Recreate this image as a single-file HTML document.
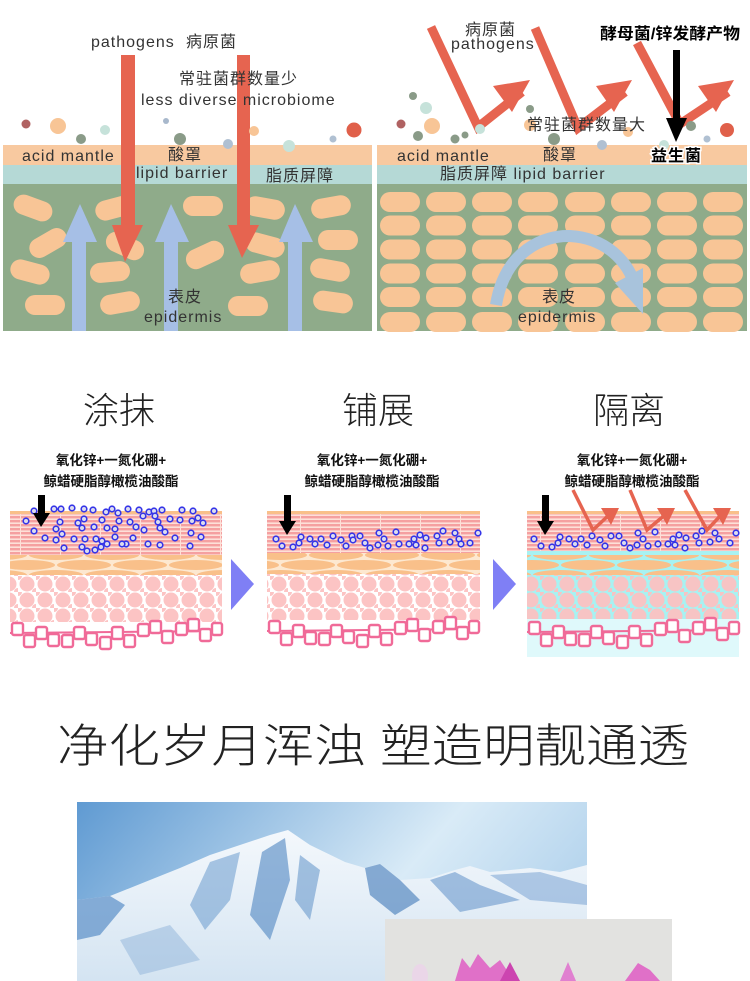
<!DOCTYPE html>
<html><head><meta charset="utf-8"><style>
html,body{margin:0;padding:0;background:#fff;width:750px;height:981px;overflow:hidden}
svg{display:block}
text{font-family:"Liberation Sans","Noto Sans CJK SC",sans-serif}
</style></head><body>
<svg width="750" height="981" viewBox="0 0 750 981" xmlns="http://www.w3.org/2000/svg">
<defs>
<pattern id="stripe" width="40" height="4" patternUnits="userSpaceOnUse"><rect width="40" height="4" fill="#fde0d8"/><rect y="0" width="40" height="2.4" fill="#f5a0a0"/><rect x="20" width="1" height="4" fill="#fde0d8"/></pattern>
<pattern id="oval" width="56" height="20" patternUnits="userSpaceOnUse"><rect width="56" height="20" fill="#fde8d0"/><ellipse cx="28" cy="5" rx="27" ry="5" fill="#f9c08a"/><ellipse cx="0" cy="15" rx="27" ry="5" fill="#f9c08a"/><ellipse cx="56" cy="15" rx="27" ry="5" fill="#f9c08a"/></pattern>
<pattern id="oval2" width="56" height="20" patternUnits="userSpaceOnUse"><rect width="56" height="20" fill="#a8f2f2"/><ellipse cx="28" cy="5" rx="27" ry="5" fill="#f9c08a"/><ellipse cx="0" cy="15" rx="27" ry="5" fill="#f9c08a"/><ellipse cx="56" cy="15" rx="27" ry="5" fill="#f9c08a"/></pattern>
<pattern id="blob" width="18" height="16" patternUnits="userSpaceOnUse"><rect width="18" height="16" fill="#fff"/><circle cx="9" cy="8" r="7.5" fill="#fcc4c4"/><circle cx="0" cy="0" r="4" fill="#fcc4c4"/><circle cx="18" cy="16" r="4" fill="#fcc4c4"/></pattern>
<pattern id="blob2" width="18" height="16" patternUnits="userSpaceOnUse"><rect width="18" height="16" fill="#a8f2f2"/><circle cx="9" cy="8" r="7.5" fill="#f7c4c4"/><circle cx="0" cy="0" r="4" fill="#f7c4c4"/><circle cx="18" cy="16" r="4" fill="#f7c4c4"/></pattern>
<g id="cap"><rect x="-20" y="-10" width="40" height="20" rx="10" fill="#f8c596"/></g>
<g id="bd"><circle r="2.8" fill="#dde" stroke="#3535e8" stroke-width="1.6"/></g>
<g id="cells" fill="#fff" stroke="#f06a98" stroke-width="2.4">
<path d="M0 10 L212 8" stroke-width="2"/>
<rect x="2" y="0" width="11" height="12" rx="2"/><rect x="14" y="12" width="11" height="12" rx="2"/><rect x="26" y="4" width="11" height="12" rx="2"/><rect x="38" y="11" width="11" height="12" rx="2"/><rect x="52" y="12" width="11" height="12" rx="2"/><rect x="64" y="4" width="11" height="12" rx="2"/><rect x="76" y="10" width="11" height="12" rx="2"/><rect x="90" y="14" width="11" height="12" rx="2"/><rect x="102" y="4" width="11" height="12" rx="2"/><rect x="114" y="12" width="11" height="12" rx="2"/><rect x="128" y="1" width="11" height="12" rx="2"/><rect x="140" y="-2" width="11" height="12" rx="2"/><rect x="152" y="8" width="11" height="12" rx="2"/><rect x="166" y="0" width="11" height="12" rx="2"/><rect x="178" y="-4" width="11" height="12" rx="2"/><rect x="190" y="6" width="11" height="12" rx="2"/><rect x="202" y="0" width="10" height="12" rx="2"/>
</g>
<linearGradient id="sky" x1="0" y1="0" x2="1" y2="0.3"><stop offset="0" stop-color="#5f9ad2"/><stop offset="0.7" stop-color="#d9ebf7"/><stop offset="1" stop-color="#b8d6ee"/></linearGradient>
<linearGradient id="mt" x1="0" y1="0" x2="0" y2="1"><stop offset="0" stop-color="#f4f8fc"/><stop offset="1" stop-color="#d4e4f2"/></linearGradient>
</defs>

<!-- TOP LEFT PANEL -->
<rect x="3" y="145" width="369" height="20" fill="#f8c9a0"/>
<rect x="3" y="165" width="369" height="19" fill="#b5d9d6"/>
<rect x="3" y="184" width="369" height="147" fill="#8fab8a"/>
<g>
<use href="#cap" transform="translate(33,208) rotate(20)"/>
<use href="#cap" transform="translate(115,208) rotate(-15)"/>
<use href="#cap" transform="translate(203,206)"/>
<use href="#cap" transform="translate(265,208) rotate(10)"/>
<use href="#cap" transform="translate(331,207) rotate(-10)"/>
<use href="#cap" transform="translate(48,243) rotate(-30)"/>
<use href="#cap" transform="translate(125,246) rotate(25)"/>
<use href="#cap" transform="translate(205,255) rotate(-25)"/>
<use href="#cap" transform="translate(265,245) rotate(15)"/>
<use href="#cap" transform="translate(338,240)"/>
<use href="#cap" transform="translate(30,272) rotate(15)"/>
<use href="#cap" transform="translate(110,272) rotate(-5)"/>
<use href="#cap" transform="translate(260,272) rotate(-10)"/>
<use href="#cap" transform="translate(330,270) rotate(10)"/>
<use href="#cap" transform="translate(45,305)"/>
<use href="#cap" transform="translate(120,303) rotate(-10)"/>
<use href="#cap" transform="translate(248,306)"/>
<use href="#cap" transform="translate(333,302) rotate(8)"/>
</g>
<g fill="#a6bfe6">
<rect x="72" y="242" width="14" height="89"/><polygon points="63,242 97,242 80,204"/>
<rect x="164" y="242" width="14" height="89"/><polygon points="155,242 189,242 171,204"/>
<rect x="288" y="242" width="14" height="89"/><polygon points="279,242 313,242 295,204"/>
</g>
<g fill="#e66450">
<rect x="121" y="55" width="14" height="172"/><polygon points="112,225 143,225 125,262"/>
<rect x="237" y="55" width="13" height="172"/><polygon points="228,225 259,225 242,258"/>
</g>
<circle cx="26" cy="124" r="4.5" fill="#b06262"/><circle cx="58" cy="126" r="8" fill="#f8c596"/><circle cx="81" cy="139" r="5" fill="#8a9b88"/><circle cx="105" cy="130" r="5" fill="#c6e2da"/><circle cx="166" cy="121" r="3" fill="#a8b8cc"/><circle cx="180" cy="139" r="6" fill="#8a9b88"/><circle cx="228" cy="144" r="5" fill="#b0c0d2"/><circle cx="254" cy="131" r="5" fill="#f8c596"/><circle cx="289" cy="146" r="6" fill="#c6e2da"/><circle cx="333" cy="139" r="3.5" fill="#b0c0d2"/><circle cx="354" cy="130" r="7.5" fill="#e0604a"/>
<g fill="#333" font-size="16" letter-spacing="1">
<text x="91" y="47">pathogens</text><text x="186" y="47">病原菌</text>
<text x="179" y="84">常驻菌群数量少</text>
<text x="141" y="105">less diverse microbiome</text>
<text x="22" y="161">acid mantle</text><text x="168" y="160">酸罩</text>
<text x="136" y="178">lipid barrier</text><text x="266" y="181">脂质屏障</text>
<text x="168" y="302">表皮</text><text x="144" y="322">epidermis</text>
</g>

<!-- TOP RIGHT PANEL -->
<rect x="377" y="145" width="370" height="20" fill="#f8c9a0"/>
<rect x="377" y="165" width="370" height="19" fill="#b5d9d6"/>
<rect x="377" y="184" width="370" height="147" fill="#8fab8a"/>
<g fill="#f8c596">
<g id="crow"><rect x="380" y="192" width="40" height="20" rx="10"/><rect x="426" y="192" width="40" height="20" rx="10"/><rect x="472" y="192" width="40" height="20" rx="10"/><rect x="518" y="192" width="40" height="20" rx="10"/><rect x="565" y="192" width="40" height="20" rx="10"/><rect x="611" y="192" width="40" height="20" rx="10"/><rect x="657" y="192" width="40" height="20" rx="10"/><rect x="703" y="192" width="40" height="20" rx="10"/></g>
<use href="#crow" y="23.5"/><use href="#crow" y="47.5"/><use href="#crow" y="71.5"/><use href="#crow" y="95"/><use href="#crow" y="120"/>
</g>
<path d="M496,305 C505,250 545,235 570,236 C605,238 628,260 636,288" fill="none" stroke="#a8c3dc" stroke-width="12"/>
<polygon points="615,283 643,268 643,314" fill="#a8c3dc"/>
<g fill="none" stroke="#e66450" stroke-width="9">
<polyline points="431,27 478,127 522,92"/><polyline points="535,28 578,128 625,92"/><polyline points="637,43 680,124 728,92"/>
</g>
<g fill="#e66450">
<polygon points="493,86 530,80 512,112"/><polygon points="596,86 632,80 614,112"/><polygon points="698,86 734,80 716,112"/>
</g>
<circle cx="413" cy="96" r="4" fill="#8a9b88"/><circle cx="426" cy="108" r="6" fill="#c6e2da"/><circle cx="401" cy="124" r="4.5" fill="#b06262"/><circle cx="432" cy="126" r="8" fill="#f8c596"/><circle cx="418" cy="136" r="5" fill="#8a9b88"/><circle cx="455" cy="139" r="4.5" fill="#8a9b88"/><circle cx="465" cy="135" r="3.5" fill="#8a9b88"/><circle cx="480" cy="129" r="5" fill="#c6e2da"/><circle cx="530" cy="125" r="6" fill="#f8c596"/><circle cx="530" cy="109" r="4" fill="#8a9b88"/><circle cx="554" cy="139" r="6" fill="#8a9b88"/><circle cx="602" cy="145" r="5" fill="#b0c0d2"/><circle cx="628" cy="132" r="5" fill="#f8c596"/><circle cx="691" cy="126" r="5" fill="#8a9b88"/><circle cx="707" cy="139" r="3.5" fill="#b0c0d2"/><circle cx="727" cy="130" r="7" fill="#e0604a"/><circle cx="664" cy="145" r="5" fill="#c6e2da"/>
<rect x="673" y="50" width="7" height="75"/><polygon points="666,118 687,118 676,142"/>
<g fill="#333" font-size="16" letter-spacing="1">
<text x="465" y="35">病原菌</text><text x="451" y="49">pathogens</text>
<text x="527" y="130">常驻菌群数量大</text>
<text x="397" y="161">acid mantle</text><text x="543" y="160">酸罩</text>
<text x="440" y="179">脂质屏障 lipid barrier</text>
<text x="542" y="302">表皮</text><text x="518" y="322">epidermis</text>
</g>
<text x="600" y="39" font-size="16" font-weight="bold" fill="#000" textLength="140" lengthAdjust="spacingAndGlyphs">酵母菌/锌发酵产物</text>
<text x="651" y="161" font-size="16" font-weight="bold" fill="#000" stroke="#fff" stroke-width="3" paint-order="stroke" letter-spacing="1">益生菌</text>

<!-- MIDDLE TITLES -->
<g font-size="36" fill="#222" font-weight="300">
<text x="83" y="423">涂抹</text><text x="342" y="423">铺展</text><text x="593" y="423">隔离</text>
</g>

<g font-size="13.5" font-weight="bold" fill="#111" text-anchor="middle">
<text x="111" y="465">氧化锌+一氮化硼+</text><text x="111" y="486">鲸蜡硬脂醇橄榄油酸酯</text>
<text x="372" y="465">氧化锌+一氮化硼+</text><text x="372" y="486">鲸蜡硬脂醇橄榄油酸酯</text>
<text x="632" y="465">氧化锌+一氮化硼+</text><text x="632" y="486">鲸蜡硬脂醇橄榄油酸酯</text>
</g>
<!-- PANEL 1 -->
<rect x="10" y="511" width="212" height="3" fill="#f9c08a"/>
<rect x="10" y="514" width="212" height="41" fill="url(#stripe)"/>
<rect x="10" y="555" width="212" height="20" fill="url(#oval)"/>
<rect x="10" y="575" width="212" height="47" fill="url(#blob)"/>
<use href="#cells" x="10" y="623"/>
<g id="d1">
<use href="#bd" x="34" y="511"/><use href="#bd" x="54" y="509"/><use href="#bd" x="61" y="509"/><use href="#bd" x="72" y="508"/><use href="#bd" x="84" y="509"/><use href="#bd" x="93" y="510"/><use href="#bd" x="106" y="512"/><use href="#bd" x="112" y="509"/><use href="#bd" x="118" y="513"/><use href="#bd" x="128" y="509"/><use href="#bd" x="139" y="510"/><use href="#bd" x="149" y="512"/><use href="#bd" x="154" y="511"/><use href="#bd" x="162" y="510"/><use href="#bd" x="182" y="510"/><use href="#bd" x="193" y="511"/><use href="#bd" x="214" y="511"/>
<use href="#bd" x="26" y="521"/><use href="#bd" x="60" y="522"/><use href="#bd" x="78" y="523"/><use href="#bd" x="84" y="519"/><use href="#bd" x="102" y="520"/><use href="#bd" x="119" y="521"/><use href="#bd" x="130" y="522"/><use href="#bd" x="143" y="516"/><use href="#bd" x="155" y="516"/><use href="#bd" x="158" y="522"/><use href="#bd" x="170" y="519"/><use href="#bd" x="180" y="520"/><use href="#bd" x="192" y="521"/><use href="#bd" x="198" y="518"/><use href="#bd" x="203" y="523"/>
<use href="#bd" x="34" y="531"/><use href="#bd" x="56" y="529"/><use href="#bd" x="82" y="528"/><use href="#bd" x="94" y="527"/><use href="#bd" x="107" y="528"/><use href="#bd" x="115" y="529"/><use href="#bd" x="136" y="527"/><use href="#bd" x="144" y="530"/><use href="#bd" x="160" y="528"/><use href="#bd" x="165" y="532"/><use href="#bd" x="191" y="533"/><use href="#bd" x="201" y="537"/>
<use href="#bd" x="45" y="538"/><use href="#bd" x="56" y="540"/><use href="#bd" x="62" y="534"/><use href="#bd" x="74" y="539"/><use href="#bd" x="85" y="539"/><use href="#bd" x="96" y="539"/><use href="#bd" x="102" y="541"/><use href="#bd" x="115" y="537"/><use href="#bd" x="126" y="544"/><use href="#bd" x="133" y="538"/><use href="#bd" x="148" y="544"/><use href="#bd" x="160" y="545"/><use href="#bd" x="175" y="538"/><use href="#bd" x="190" y="546"/>
<use href="#bd" x="64" y="548"/><use href="#bd" x="82" y="547"/><use href="#bd" x="95" y="550"/><use href="#bd" x="101" y="547"/><use href="#bd" x="87" y="551"/><use href="#bd" x="107" y="544"/><use href="#bd" x="122" y="544"/>
</g>
<rect x="38" y="495" width="7" height="20"/><polygon points="33,513 50,513 41,527"/>
<polygon points="231,559 254,584 231,610" fill="#7f7ff5"/>

<!-- PANEL 2 -->
<rect x="267" y="511" width="213" height="3" fill="#f9c08a"/>
<rect x="267" y="514" width="213" height="39" fill="url(#stripe)"/>
<rect x="267" y="553" width="213" height="21" fill="url(#oval)"/>
<rect x="267" y="574" width="213" height="46" fill="url(#blob)"/>
<use href="#cells" x="267" y="621"/>
<g>
<use href="#bd" x="276" y="539"/><use href="#bd" x="282" y="546"/><use href="#bd" x="293" y="547"/><use href="#bd" x="299" y="543"/><use href="#bd" x="301" y="537"/><use href="#bd" x="310" y="539"/><use href="#bd" x="315" y="544"/><use href="#bd" x="321" y="539"/><use href="#bd" x="327" y="545"/><use href="#bd" x="333" y="536"/><use href="#bd" x="341" y="540"/><use href="#bd" x="346" y="546"/><use href="#bd" x="352" y="536"/><use href="#bd" x="353" y="540"/><use href="#bd" x="360" y="536"/><use href="#bd" x="365" y="543"/><use href="#bd" x="370" y="548"/><use href="#bd" x="378" y="545"/><use href="#bd" x="379" y="533"/><use href="#bd" x="384" y="539"/><use href="#bd" x="388" y="546"/><use href="#bd" x="396" y="532"/><use href="#bd" x="399" y="544"/><use href="#bd" x="409" y="544"/><use href="#bd" x="414" y="539"/><use href="#bd" x="416" y="545"/><use href="#bd" x="420" y="535"/><use href="#bd" x="425" y="548"/><use href="#bd" x="426" y="538"/><use href="#bd" x="437" y="536"/><use href="#bd" x="439" y="543"/><use href="#bd" x="443" y="531"/><use href="#bd" x="450" y="542"/><use href="#bd" x="455" y="533"/><use href="#bd" x="459" y="539"/><use href="#bd" x="461" y="544"/><use href="#bd" x="470" y="543"/><use href="#bd" x="478" y="533"/>
</g>
<rect x="284" y="495" width="7" height="28"/><polygon points="279,521 296,521 287,535"/>
<polygon points="493,559 516,584 493,610" fill="#7f7ff5"/>

<!-- PANEL 3 -->
<rect x="527" y="550" width="212" height="107" fill="#dff9fb"/>
<rect x="527" y="511" width="212" height="3" fill="#f9c08a"/>
<rect x="527" y="514" width="212" height="37" fill="url(#stripe)"/>
<rect x="527" y="551" width="212" height="4" fill="#a8f2f2"/>
<rect x="527" y="555" width="212" height="20" fill="url(#oval2)"/>
<rect x="527" y="575" width="212" height="44" fill="url(#blob2)"/>
<use href="#cells" x="527" y="622"/>
<g>
<use href="#bd" x="534" y="539"/><use href="#bd" x="541" y="546"/><use href="#bd" x="552" y="547"/><use href="#bd" x="558" y="543"/><use href="#bd" x="560" y="537"/><use href="#bd" x="569" y="539"/><use href="#bd" x="575" y="544"/><use href="#bd" x="581" y="539"/><use href="#bd" x="587" y="545"/><use href="#bd" x="592" y="536"/><use href="#bd" x="600" y="540"/><use href="#bd" x="605" y="546"/><use href="#bd" x="611" y="536"/><use href="#bd" x="619" y="536"/><use href="#bd" x="624" y="543"/><use href="#bd" x="630" y="548"/><use href="#bd" x="637" y="545"/><use href="#bd" x="638" y="533"/><use href="#bd" x="643" y="539"/><use href="#bd" x="648" y="546"/><use href="#bd" x="655" y="532"/><use href="#bd" x="658" y="544"/><use href="#bd" x="668" y="544"/><use href="#bd" x="673" y="539"/><use href="#bd" x="675" y="545"/><use href="#bd" x="679" y="535"/><use href="#bd" x="685" y="548"/><use href="#bd" x="686" y="538"/><use href="#bd" x="696" y="536"/><use href="#bd" x="699" y="543"/><use href="#bd" x="702" y="531"/><use href="#bd" x="710" y="542"/><use href="#bd" x="715" y="533"/><use href="#bd" x="719" y="539"/><use href="#bd" x="730" y="543"/><use href="#bd" x="736" y="533"/>
</g>
<rect x="542" y="495" width="7" height="28"/><polygon points="537,521 554,521 545,535"/>
<g fill="none" stroke="#e66450" stroke-width="3.5">
<polyline points="573,490 593,530 610,514"/><polyline points="630,490 647,530 666,514"/><polyline points="685,490 707,530 722,514"/>
</g>
<g fill="#e66450">
<polygon points="601,508 619,508 611,525"/><polygon points="657,508 675,508 667,525"/><polygon points="713,508 731,508 723,525"/>
</g>

<!-- BIG TITLE -->
<text x="57" y="762" font-size="46" fill="#222" font-weight="300" textLength="632" lengthAdjust="spacingAndGlyphs">净化岁月浑浊 塑造明靓通透</text>

<!-- MOUNTAIN IMAGE -->
<rect x="77" y="802" width="510" height="179" fill="url(#sky)"/>
<polygon points="77,900 110,896 150,880 180,868 210,855 240,845 270,835 288,830 310,845 345,862 365,868 380,864 400,880 430,878 455,870 470,866 490,872 530,868 560,872 587,865 587,981 77,981" fill="url(#mt)"/>
<polygon points="77,900 110,896 125,905 100,935 77,940" fill="#5a8fc8" opacity="0.7"/>
<polygon points="210,862 240,852 230,900 205,930 190,905" fill="#6a9acd" opacity="0.55"/>
<polygon points="262,852 285,838 290,880 270,940 250,915" fill="#4f86c2" opacity="0.6"/>
<polygon points="300,855 320,870 310,920 295,900" fill="#5f92c8" opacity="0.55"/>
<polygon points="365,868 380,864 400,880 420,900 395,915 370,895" fill="#3f78b8" opacity="0.6"/>
<polygon points="430,880 455,872 480,885 520,900 460,912" fill="#5f90c8" opacity="0.55"/>
<polygon points="490,875 540,872 587,885 587,905 530,900" fill="#6f9cd0" opacity="0.5"/>
<polygon points="120,940 170,925 200,960 140,975" fill="#8fb3da" opacity="0.5"/>

<!-- FLOWER IMAGE -->
<rect x="385" y="919" width="287" height="62" fill="#e2e2e0"/>
<ellipse cx="420" cy="976" rx="8" ry="12" fill="#ead6e8"/>
<path d="M455,981 L462,958 L470,968 L478,954 L490,968 L500,960 L510,975 L515,981Z" fill="#e070c8"/>
<path d="M500,981 L510,962 L520,981Z" fill="#cc44b0"/>
<path d="M560,981 L568,962 L576,981Z" fill="#e080d0"/>
<path d="M625,981 L638,963 L650,970 L660,981Z" fill="#e070c8"/>
</svg>
</body></html>
